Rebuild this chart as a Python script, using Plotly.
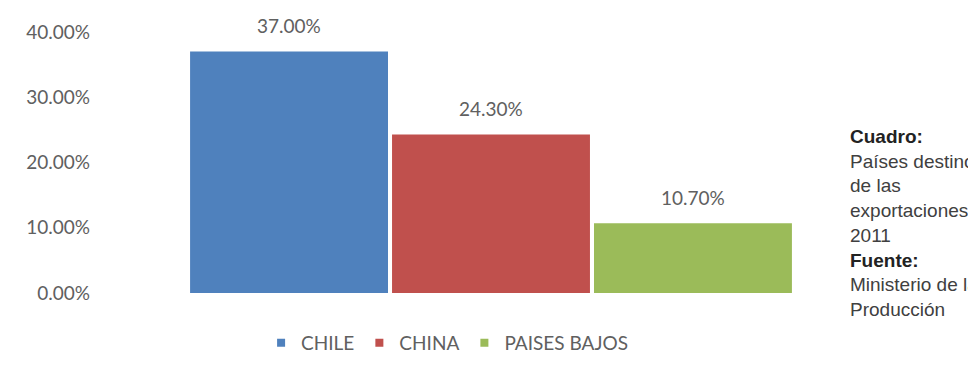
import plotly.graph_objects as go

countries = ["CHILE", "CHINA", "PAISES BAJOS"]
shares = [37.0, 24.3, 10.7]
colors = ["#4F81BD", "#C0504D", "#9BBB59"]
y_ticks = [0, 10, 20, 30, 40]
y_tick_labels = ["0.00%", "10.00%", "20.00%", "30.00%", "40.00%"]

FONT = "Lato, Open Sans, sans-serif"
GRAY = "#606060"

fig = go.Figure()
for c, v, col in zip(countries, shares, colors):
    fig.add_trace(go.Bar(
        x=[c], y=[v], name=c, marker=dict(color=col, line=dict(width=0)),
        width=0.98, showlegend=False,
    ))
    fig.add_annotation(x=c, y=v, text=f"{v:.2f}%", showarrow=False,
                       yanchor="middle", yshift=26,
                       font=dict(family=FONT, size=19, color=GRAY))
# legend entries with small square markers
for c, col in zip(countries, colors):
    fig.add_trace(go.Scatter(x=[None], y=[None], mode="markers", name=c,
                             marker=dict(symbol="square", size=8, color=col)))

note = ("<b style='color:#222222'>Cuadro:</b><br>Países destino<br>de las<br>exportaciones,<br>2011"
        "<br><b style='color:#222222'>Fuente:</b><br>Ministerio de la<br>Producción")
fig.add_annotation(xref="paper", yref="paper", x=0.9565, y=0.646,
                   xanchor="left", yanchor="top", align="left", showarrow=False, text=note,
                   font=dict(family="Liberation Sans, Arial, sans-serif", size=19, color="#404040"))

fig.update_layout(
    width=976, height=366,
    margin=dict(l=92, r=102, t=19, b=70),
    paper_bgcolor="white", plot_bgcolor="white",
    barmode="overlay", bargap=0.02,
    showlegend=True,
    legend=dict(orientation="h", x=0.206, xanchor="left", y=-0.191, yanchor="middle",
                font=dict(family=FONT, size=19, color=GRAY),
                itemwidth=30, traceorder="normal"),
    xaxis=dict(range=[-0.936, 2.936], showticklabels=False, showgrid=False, zeroline=False,
               showline=False, ticks=""),
    yaxis=dict(range=[0, 40], tickvals=y_ticks, ticktext=y_tick_labels, showgrid=False,
               zeroline=False, showline=False, ticks="", ticklabelstandoff=9,
               tickfont=dict(family=FONT, size=19, color=GRAY)),
)
fig.write_html("out.html")
